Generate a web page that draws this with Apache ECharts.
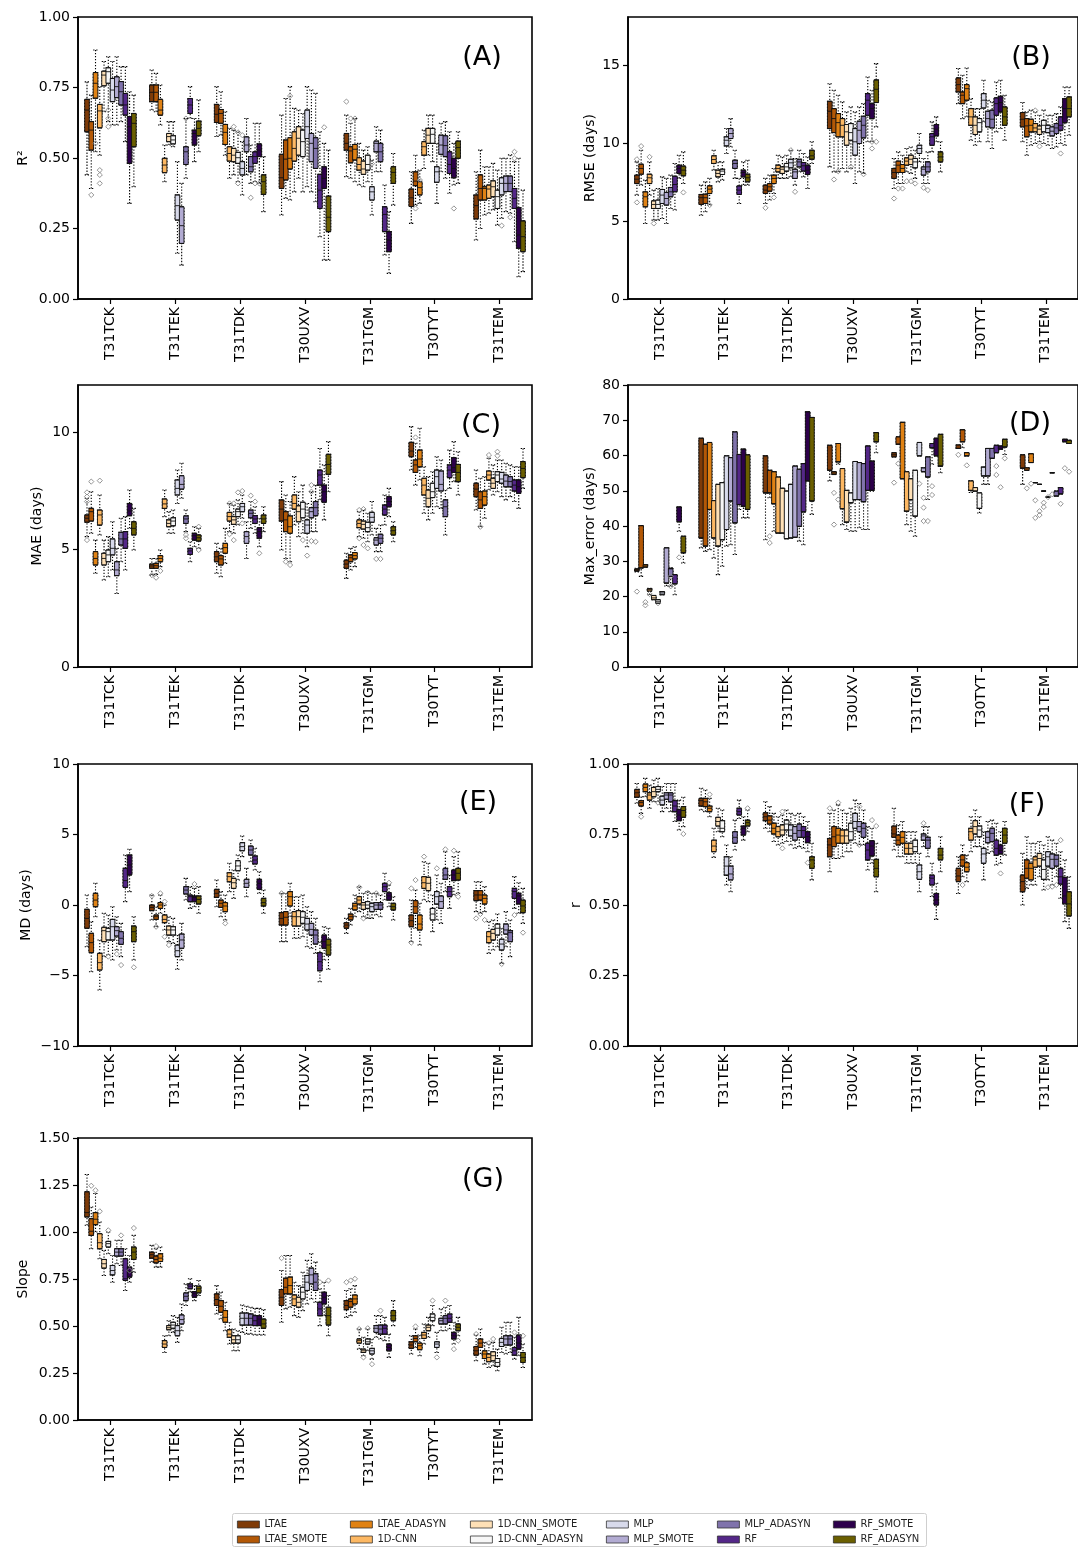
<!DOCTYPE html>
<html>
<head>
<meta charset="utf-8">
<script src="https://cdn.jsdelivr.net/npm/echarts@6/dist/echarts.min.js"></script>
<style>
  html, body { margin: 0; padding: 0; background: #fff; }
  #chart { width: 1078px; height: 1547px; }
</style>
</head>
<body>
<div id="chart"></div>
<script>
// Tiles, models and colours
const categories = ['T31TCK', 'T31TEK', 'T31TDK', 'T30UXV', 'T31TGM', 'T30TYT', 'T31TEM'];
const models = ['LTAE', 'LTAE_SMOTE', 'LTAE_ADASYN', '1D-CNN', '1D-CNN_SMOTE', '1D-CNN_ADASYN',
  'MLP', 'MLP_SMOTE', 'MLP_ADASYN', 'RF', 'RF_SMOTE', 'RF_ADASYN'];
const modelColors = ['#7f3b08', '#b35806', '#e08214', '#fdb863', '#fee0b6', '#f7f7f7',
  '#d8daeb', '#b2abd2', '#8073ac', '#542788', '#2d004b', '#6b5f00'];

// Each block: one tile, 12 models, [min, Q1, median, Q3, max]
const r2Boxes = [
  [[0.44,0.593,0.67,0.708,0.77],[0.392,0.528,0.599,0.629,0.723],[0.522,0.712,0.765,0.803,0.883],[0.51,0.607,0.667,0.69,0.753],[0.664,0.756,0.794,0.808,0.842],[0.629,0.765,0.806,0.82,0.859],[0.617,0.7,0.741,0.782,0.842],[0.617,0.714,0.753,0.788,0.859],[0.629,0.688,0.735,0.771,0.824],[0.558,0.652,0.688,0.729,0.824],[0.339,0.481,0.611,0.647,0.735],[0.398,0.54,0.623,0.658,0.723]],
  [[0.67,0.7,0.733,0.759,0.812],[0.664,0.7,0.733,0.759,0.8],[0.617,0.652,0.67,0.708,0.759],[0.416,0.448,0.475,0.499,0.546],[0.546,0.558,0.576,0.587,0.629],[0.54,0.55,0.564,0.579,0.629],[0.162,0.28,0.331,0.369,0.487],[0.12,0.197,0.26,0.327,0.41],[0.428,0.477,0.522,0.54,0.64],[0.641,0.658,0.688,0.711,0.753],[0.487,0.546,0.587,0.599,0.64],[0.522,0.579,0.605,0.631,0.706]],
  [[0.576,0.626,0.655,0.69,0.753],[0.581,0.623,0.658,0.672,0.735],[0.51,0.548,0.591,0.619,0.664],[0.428,0.489,0.516,0.54,0.605],[0.44,0.487,0.51,0.534,0.599],[0.416,0.481,0.501,0.52,0.593],[0.369,0.44,0.463,0.487,0.558],[0.44,0.522,0.546,0.575,0.64],[0.41,0.451,0.469,0.505,0.546],[0.416,0.481,0.505,0.522,0.623],[0.41,0.505,0.528,0.55,0.623],[0.31,0.371,0.416,0.44,0.505]],
  [[0.298,0.392,0.43,0.513,0.652],[0.357,0.422,0.496,0.564,0.711],[0.351,0.461,0.499,0.572,0.753],[0.38,0.489,0.534,0.593,0.676],[0.428,0.51,0.57,0.611,0.67],[0.38,0.505,0.558,0.599,0.658],[0.398,0.569,0.611,0.67,0.753],[0.38,0.487,0.552,0.587,0.741],[0.345,0.463,0.534,0.572,0.729],[0.221,0.321,0.386,0.442,0.593],[0.138,0.392,0.428,0.469,0.552],[0.138,0.239,0.29,0.365,0.528]],
  [[0.434,0.528,0.552,0.587,0.652],[0.428,0.483,0.525,0.54,0.623],[0.416,0.493,0.531,0.548,0.64],[0.404,0.457,0.477,0.501,0.552],[0.398,0.442,0.461,0.489,0.528],[0.416,0.457,0.477,0.51,0.54],[0.298,0.351,0.38,0.398,0.493],[0.451,0.522,0.552,0.56,0.611],[0.451,0.487,0.522,0.552,0.599],[0.156,0.239,0.3,0.327,0.404],[0.091,0.168,0.209,0.239,0.31],[0.333,0.41,0.449,0.469,0.516]],
  [[0.268,0.328,0.359,0.39,0.451],[0.333,0.402,0.418,0.451,0.51],[0.339,0.369,0.395,0.416,0.457],[0.463,0.51,0.54,0.558,0.599],[0.51,0.552,0.581,0.605,0.652],[0.487,0.552,0.584,0.605,0.652],[0.339,0.414,0.451,0.469,0.552],[0.451,0.513,0.546,0.581,0.623],[0.428,0.505,0.544,0.579,0.629],[0.375,0.445,0.477,0.522,0.593],[0.404,0.43,0.463,0.499,0.552],[0.41,0.499,0.537,0.56,0.593]],
  [[0.209,0.284,0.331,0.369,0.451],[0.25,0.351,0.392,0.44,0.528],[0.298,0.351,0.392,0.398,0.469],[0.304,0.357,0.39,0.404,0.469],[0.316,0.363,0.398,0.419,0.481],[0.262,0.321,0.363,0.386,0.457],[0.286,0.369,0.41,0.43,0.499],[0.31,0.381,0.41,0.436,0.499],[0.304,0.381,0.41,0.436,0.511],[0.203,0.321,0.357,0.392,0.487],[0.079,0.18,0.227,0.324,0.499],[0.097,0.168,0.221,0.277,0.386]]
];

const rmseBoxes = [
  [[6.67,7.41,7.69,7.95,8.8],[7.31,8.01,8.38,8.65,9.55],[4.85,5.92,6.56,6.88,7.63],[6.67,7.41,7.78,8.01,8.8],[5.06,5.81,6.07,6.3,6.99],[5.06,5.81,6.07,6.35,7.09],[5.17,6.13,6.67,7.03,7.84],[4.85,6.03,6.45,6.84,7.74],[5.81,6.56,6.88,7.16,7.95],[5.71,6.88,7.35,7.88,8.7],[7.74,8.06,8.38,8.59,9.23],[7.41,7.91,8.27,8.53,9.44]],
  [[5.38,6.07,6.5,6.71,7.31],[5.6,6.13,6.5,6.73,7.52],[6.03,6.77,7.05,7.26,7.74],[8.27,8.7,8.95,9.19,9.55],[7.52,7.84,8.06,8.27,8.8],[7.63,7.99,8.21,8.33,8.8],[9.34,9.83,10.19,10.41,10.94],[9.76,10.3,10.62,10.94,11.58],[7.74,8.38,8.7,8.91,9.55],[6.13,6.71,6.99,7.26,7.74],[7.31,7.84,8.12,8.27,8.8],[7.31,7.52,7.78,8.01,8.91]],
  [[6.13,6.77,6.99,7.31,7.74],[6.35,6.92,7.2,7.41,7.95],[6.77,7.41,7.74,7.95,8.38],[7.74,8.16,8.38,8.59,9.23],[7.74,8.06,8.33,8.48,9.12],[7.74,8.21,8.48,8.7,9.23],[7.84,8.42,8.74,8.97,9.55],[7.31,7.74,8.16,8.33,9.02],[8.16,8.48,8.8,8.97,9.55],[7.84,8.21,8.55,8.76,9.34],[7.09,7.99,8.27,8.59,9.12],[8.7,8.97,9.19,9.55,10.09]],
  [[8.48,10.94,12.05,12.69,13.82],[8.16,10.68,11.58,12.22,13.4],[8.16,10.41,11.32,11.9,13.08],[8.38,10.41,11.15,11.58,12.65],[8.16,9.87,10.73,11.2,12.01],[8.38,10.19,10.68,11.26,12.33],[7.41,9.23,10.09,10.94,12.01],[8.16,9.98,10.83,11.41,12.33],[8.06,10.34,11.15,11.73,12.54],[10.09,11.79,12.76,13.18,14.25],[10.09,11.58,12.22,12.54,13.4],[11.05,12.61,13.46,14.06,15.11]],
  [[7.09,7.74,8.12,8.38,9.02],[7.41,8.12,8.59,8.85,9.44],[7.41,8.12,8.38,8.63,9.23],[8.16,8.59,8.85,9.06,9.66],[8.06,8.63,8.97,9.23,9.76],[7.74,8.42,8.8,9.02,9.55],[8.8,9.34,9.66,9.87,10.62],[7.41,7.95,8.33,8.48,9.02],[7.41,8.16,8.48,8.8,9.44],[9.44,9.87,10.41,10.62,11.37],[10.09,10.47,10.9,11.2,11.69],[8.16,8.8,9.12,9.44,10.09]],
  [[12.54,13.29,13.76,14.19,14.79],[11.58,12.54,13.08,13.29,14.36],[11.69,12.76,13.5,13.76,14.83],[10.19,11.15,11.69,12.22,12.86],[9.87,10.56,11.15,11.69,12.22],[10.09,10.73,11.32,11.58,12.22],[11.37,12.26,12.76,13.18,14.04],[10.09,11.05,11.58,12.05,12.76],[9.66,10.98,11.54,12.12,12.65],[10.73,11.79,12.54,12.91,13.93],[10.94,12.01,12.61,13.01,14.04],[10.19,11.15,11.69,12.33,13.08]],
  [[10.09,11.05,11.54,11.97,12.61],[9.23,10.41,11.11,11.58,12.01],[9.87,10.73,11.15,11.54,12.12],[9.98,10.73,10.98,11.26,12.01],[10.09,10.56,10.9,11.11,11.79],[9.98,10.73,11.15,11.47,12.12],[9.87,10.68,10.94,11.15,11.79],[9.66,10.47,10.77,11.05,11.79],[9.76,10.62,10.98,11.26,11.9],[9.98,10.83,11.15,11.69,12.33],[9.87,11.32,12.22,12.86,13.61],[10.51,11.69,12.22,12.97,13.61]]
];

const maeBoxes = [
  [[5.55,6.16,6.33,6.47,7.18],[5.69,6.21,6.61,6.75,7.46],[3.99,4.34,4.62,4.91,5.4],[5.62,6.04,6.47,6.68,7.32],[3.7,4.34,4.62,4.84,5.4],[3.84,4.48,4.77,4.98,5.55],[4.13,4.77,5.05,5.45,6.18],[3.13,3.89,4.13,4.48,5.05],[4.48,5.19,5.45,5.73,6.33],[4.13,5.05,5.45,5.76,6.4],[5.9,6.44,6.64,6.96,7.53],[4.98,5.62,5.9,6.18,6.75]],
  [[3.91,4.2,4.3,4.38,4.62],[3.94,4.2,4.31,4.41,4.62],[4.27,4.48,4.62,4.74,4.98],[6.4,6.75,6.94,7.15,7.53],[5.69,5.97,6.11,6.26,6.61],[5.69,6.01,6.21,6.35,6.68],[6.96,7.32,7.6,7.96,8.38],[7.18,7.57,7.77,8.14,8.67],[5.76,6.11,6.3,6.43,6.68],[4.48,4.79,4.94,5.05,5.33],[5.12,5.4,5.59,5.69,5.97],[5.05,5.36,5.5,5.62,5.9]],
  [[3.99,4.48,4.69,4.91,5.26],[3.84,4.34,4.6,4.74,5.05],[4.41,4.84,5.08,5.26,5.9],[5.76,6.21,6.4,6.58,6.96],[5.69,6.07,6.26,6.4,6.89],[6.04,6.4,6.61,6.72,7.11],[6.33,6.61,6.82,6.96,7.32],[4.62,5.26,5.55,5.76,6.18],[5.9,6.35,6.54,6.68,7.04],[5.69,6.11,6.3,6.44,6.82],[5.12,5.48,5.76,5.93,6.33],[5.76,6.11,6.3,6.47,6.82]],
  [[4.98,6.21,6.72,7.11,7.89],[4.62,5.76,6.26,6.61,7.32],[4.48,5.69,5.97,6.43,7.04],[6.04,6.72,6.96,7.32,8.1],[5.55,6.18,6.61,6.86,7.46],[5.69,6.35,6.72,7.01,7.74],[5.12,5.69,6.04,6.26,6.96],[5.76,6.35,6.61,6.78,7.46],[5.76,6.44,6.78,7.04,7.74],[7.11,7.74,8.17,8.38,9.3],[6.26,7.01,7.46,7.74,8.6],[7.46,8.2,8.62,9.05,9.59]],
  [[3.77,4.2,4.38,4.55,4.84],[4.13,4.48,4.65,4.77,5.05],[4.27,4.6,4.74,4.87,5.12],[5.55,5.93,6.11,6.26,6.61],[5.48,5.87,6.07,6.21,6.68],[5.33,5.76,5.93,6.16,6.54],[5.62,6.16,6.37,6.58,7.04],[4.91,5.19,5.4,5.5,5.9],[4.91,5.26,5.48,5.65,6.04],[6.04,6.47,6.72,6.89,7.32],[6.4,6.82,7.04,7.25,7.6],[5.33,5.62,5.8,5.97,6.18]],
  [[8.38,8.95,9.19,9.56,10.23],[7.74,8.28,8.6,8.81,9.52],[7.96,8.52,8.85,9.23,10.16],[6.54,7.32,7.74,8.03,8.52],[6.26,6.82,7.18,7.53,8.1],[6.54,7.21,7.46,7.82,8.31],[6.82,7.6,8.1,8.38,8.95],[6.75,7.49,7.77,8.34,8.81],[5.62,6.4,6.82,7.11,7.53],[7.6,8.06,8.38,8.6,9.23],[7.89,8.28,8.48,8.91,9.59],[7.32,7.89,8.28,8.62,9.16]],
  [[6.68,7.25,7.57,7.82,8.38],[5.97,6.75,7.11,7.46,8.03],[6.33,6.89,7.25,7.49,8.1],[7.53,7.96,8.17,8.34,8.88],[7.32,7.6,7.82,8.03,8.6],[7.46,7.89,8.17,8.31,8.81],[7.25,7.82,8.0,8.28,8.81],[7.11,7.67,7.91,8.17,8.67],[7.25,7.67,7.89,8.1,8.6],[7.04,7.49,7.74,7.96,8.52],[6.75,7.39,7.67,7.96,8.52],[7.6,8.06,8.45,8.74,9.3]]
];

const maxErrBoxes = [
  [[27,27.2,27.5,27.8,28],[25.7,28.1,28.1,40.1,40.1],[28.3,28.3,28.6,29.0,29.0],[20.5,21.5,21.9,22.2,22.3],[19.1,19.1,19.6,20.3,20.3],[18.1,18.1,18.6,19.1,19.1],[20.5,20.5,21.0,21.4,21.4],[23,23.8,23.8,33.8,33.8],[22.9,25.7,27.9,27.9,28.2],[20.5,23.6,23.6,26.2,26.2],[38.5,41.2,41.2,45.4,45.4],[29.5,32.4,32.4,37.1,37.1]],
  [[33.8,36.6,36.6,64.9,64.9],[32.8,34.3,34.3,63.2,63.2],[33.3,44.7,44.7,63.7,63.7],[30.9,36.6,36.6,47.2,47.2],[26.2,34.3,34.3,51.8,51.8],[28.6,36.1,36.1,52.3,52.3],[34.3,39.0,39.0,59.9,59.9],[34.7,47.1,47.1,59.4,59.4],[31.9,40.9,40.9,66.7,66.7],[44.7,46.1,46.1,60.3,60.3],[42.3,45.6,45.6,61.8,61.8],[42.3,44.7,44.7,60.2,60.2]],
  [[36.1,49.4,49.4,59.9,59.9],[48,49.4,49.4,55.8,55.8],[38.5,46.3,46.3,55.4,55.4],[38,38,38,53.9,53.9],[38,38,38,50.7,50.7],[36.4,36.4,36.4,49.9,49.9],[36.6,36.6,36.6,51.8,51.8],[36.8,36.8,36.8,57.0,57.0],[35.7,39.9,39.9,56.1,56.1],[34.7,44.0,44.0,57.7,57.7],[52.8,52.8,52.8,72.4,72.4],[43.3,47.1,47.1,70.8,70.8]],
  [[52.8,55.8,55.8,62.9,62.9],[54.6,54.6,55,55.4,55.4],[57.5,58.2,58.2,63.4,63.4],[40.4,44.9,44.9,56.3,56.3],[39.0,41.1,41.1,50.1,50.1],[38.5,46.6,46.6,49.4,49.4],[38.5,47.5,47.5,58.3,58.3],[39.5,47.5,47.5,58.0,58.0],[39.0,46.9,46.9,57.7,57.7],[39.0,50.1,50.1,62.7,62.7],[49.9,50.1,50.1,58.4,58.4],[60.8,63.9,63.9,66.5,66.5]],
  [[59.6,59.6,60.2,60.8,60.8],[63.2,63.2,63.2,65.3,65.3],[53.4,53.4,53.4,69.4,69.4],[40.4,44.2,44.2,55.4,55.4],[38.5,47.5,47.5,53.4,53.4],[37.1,42.8,42.8,55.8,55.8],[59.9,59.9,59.9,63.7,63.7],[55.4,55.4,55.4,56.5,56.5],[47.5,53.9,53.9,59.6,59.6],[57.5,62.2,62.2,63.4,63.4],[59.9,59.9,59.9,64.9,64.9],[55.1,57.0,57.0,66.0,66.0]],
  [[62.0,62.0,62.0,63.0,63.0],[62.2,63.9,63.9,67.3,67.3],[59.9,59.9,59.9,60.8,60.8],[49.5,50.1,50.1,52.8,52.8],[49.9,49.9,49.9,50.9,50.9],[43.7,45.0,45.0,49.4,49.4],[51.8,54.2,54.2,56.7,56.7],[51.8,54.2,54.2,62.0,62.0],[59.2,59.2,59.2,62.0,62.0],[60.8,60.8,60.8,62.9,62.9],[61.8,61.8,61.8,62.7,62.7],[60.3,62.4,62.4,64.6,64.6]],
  [[51.8,56.4,56.4,60.2,60.2],[55.8,55.8,55.8,56.5,56.5],[58.0,58.0,58.0,60.5,60.5],[52.3,52.3,52.3,52.3,52.3],[51.8,51.8,51.8,51.8,51.8],[49.9,49.9,49.9,49.9,49.9],[48.2,48.2,48.2,48.2,48.2],[55.1,55.1,55.1,55.1,55.1],[48.5,48.5,48.5,49.9,49.9],[49.1,49.1,49.1,50.9,50.9],[63.9,63.9,63.9,64.6,64.6],[63.4,63.4,63.4,64.3,64.3]]
];

const mdBoxes = [
  [[-2.96,-1.65,-0.95,-0.31,0.71],[-4.73,-3.38,-2.67,-2.01,-1.18],[-0.83,-0.12,0.35,0.83,1.54],[-6.03,-4.61,-4.09,-3.43,-2.48],[-3.66,-2.6,-1.82,-1.58,-0.59],[-3.55,-2.48,-1.89,-1.65,-0.71],[-3.9,-2.48,-1.54,-1.02,-0.12],[-3.19,-2.2,-1.82,-1.54,-0.83],[-3.66,-2.79,-2.36,-1.89,-1.3],[0.24,1.25,1.73,2.6,3.55],[0.95,2.13,2.84,3.55,3.95],[-3.9,-2.6,-1.89,-1.49,-0.83]],
  [[-1.06,-0.4,-0.17,0,0.71],[-1.54,-1.02,-0.83,-0.71,-0.12],[-0.59,-0.24,0,0.17,0.71],[-1.77,-1.25,-1.02,-0.71,0],[-2.6,-2.13,-1.77,-1.49,-0.83],[-2.72,-2.13,-1.77,-1.54,-0.95],[-4.56,-3.66,-3.24,-2.84,-2.13],[-3.9,-3.07,-2.48,-2.06,-1.3],[0.35,0.78,1.06,1.3,1.89],[-0.24,0.24,0.59,0.71,1.3],[-0.12,0.24,0.54,0.64,1.18],[-0.59,0.07,0.4,0.64,1.3]],
  [[-0.12,0.54,0.83,1.11,1.77],[-0.83,-0.17,0.12,0.35,0.95],[-1.06,-0.47,-0.07,0.17,0.71],[0.95,1.65,2.01,2.29,2.96],[0.47,1.18,1.58,1.89,2.48],[1.77,2.43,2.77,3.14,3.55],[3.43,3.85,4.14,4.42,4.89],[0.59,1.25,1.54,1.82,2.6],[3.07,3.55,3.9,4.18,4.61],[2.48,2.91,3.19,3.48,4.02],[0.83,1.11,1.54,1.82,2.36],[-0.59,-0.07,0.17,0.47,1.06]],
  [[-2.6,-1.42,-0.95,-0.54,0.83],[-2.6,-1.42,-0.87,-0.47,0.83],[-0.83,-0.07,0.59,0.95,1.54],[-2.36,-1.49,-0.83,-0.47,0.59],[-2.36,-1.49,-0.83,-0.4,0.59],[-2.25,-1.3,-0.87,-0.47,0.71],[-2.96,-1.77,-1.35,-0.95,-0.12],[-3.07,-2.13,-1.73,-1.3,-0.47],[-3.43,-2.77,-2.13,-1.77,-0.95],[-5.44,-4.66,-4.02,-3.38,-2.6],[-3.9,-3.07,-2.6,-2.13,-1.54],[-4.56,-3.55,-2.84,-2.43,-1.65]],
  [[-2.01,-1.65,-1.42,-1.25,-0.95],[-1.42,-1.06,-0.83,-0.64,-0.24],[-0.83,-0.35,-0.07,0.12,0.71],[-0.47,0.07,0.35,0.59,1.3],[-0.83,-0.31,0,0.17,0.83],[-0.95,-0.24,0,0.24,0.95],[-0.95,-0.47,-0.12,0.12,0.83],[-0.71,-0.31,0,0.17,0.83],[-0.83,-0.31,0,0.17,0.71],[0.35,0.95,1.3,1.54,2.25],[-0.12,0.35,0.64,0.87,1.42],[-1.06,-0.35,-0.12,0.12,0.59]],
  [[-2.6,-1.54,-1.11,-0.71,0.35],[-1.65,-0.59,-0.12,0.31,1.06],[-2.84,-1.77,-1.35,-0.71,0.12],[0.35,1.18,1.58,2.01,3.07],[0.24,1.02,1.54,1.96,2.96],[-1.89,-1.06,-0.64,-0.24,0.71],[-1.06,0.07,0.59,0.95,2.13],[-1.3,-0.24,0.24,0.64,1.54],[0.95,1.82,2.13,2.6,3.78],[-0.24,0.59,0.95,1.3,2.13],[0.71,1.73,2.13,2.48,3.43],[0.83,1.77,2.25,2.6,3.78]],
  [[-0.47,0.31,0.71,1.02,1.65],[-0.59,0.35,0.71,1.02,1.65],[-0.47,0.07,0.47,0.71,1.3],[-3.43,-2.67,-2.25,-1.89,-1.18],[-3.19,-2.48,-2.01,-1.73,-1.06],[-2.96,-2.13,-1.65,-1.35,-0.64],[-4.14,-3.19,-2.77,-2.43,-1.65],[-2.96,-2.06,-1.77,-1.35,-0.47],[-3.66,-2.6,-1.96,-1.82,-1.06],[-0.24,0.47,0.95,1.18,2.01],[-0.59,0.07,0.64,0.83,1.58],[-1.3,-0.54,-0.07,0.35,1.18]]
];

const rBoxes = [
  [[0.861,0.882,0.898,0.91,0.931],[0.825,0.851,0.863,0.87,0.884],[0.884,0.902,0.917,0.929,0.949],[0.843,0.872,0.89,0.898,0.925],[0.866,0.884,0.902,0.917,0.943],[0.866,0.902,0.91,0.92,0.949],[0.831,0.855,0.872,0.886,0.92],[0.843,0.875,0.89,0.898,0.931],[0.831,0.866,0.89,0.898,0.931],[0.796,0.831,0.851,0.87,0.931],[0.766,0.799,0.819,0.839,0.872],[0.778,0.811,0.835,0.849,0.882]],
  [[0.837,0.851,0.87,0.878,0.914],[0.831,0.849,0.866,0.878,0.908],[0.813,0.831,0.843,0.851,0.878],[0.669,0.689,0.709,0.73,0.772],[0.76,0.78,0.796,0.811,0.843],[0.742,0.76,0.772,0.799,0.837],[0.571,0.606,0.638,0.671,0.713],[0.547,0.589,0.61,0.638,0.671],[0.695,0.719,0.74,0.76,0.801],[0.807,0.819,0.831,0.843,0.872],[0.73,0.748,0.772,0.78,0.813],[0.76,0.78,0.792,0.801,0.837]],
  [[0.772,0.799,0.813,0.827,0.866],[0.76,0.787,0.801,0.816,0.849],[0.725,0.752,0.772,0.79,0.825],[0.713,0.742,0.76,0.778,0.813],[0.719,0.748,0.766,0.784,0.819],[0.725,0.766,0.787,0.801,0.837],[0.713,0.745,0.766,0.784,0.825],[0.701,0.73,0.754,0.778,0.819],[0.707,0.74,0.764,0.787,0.825],[0.701,0.74,0.764,0.778,0.813],[0.689,0.721,0.742,0.76,0.796],[0.589,0.63,0.66,0.671,0.719]],
  [[0.618,0.671,0.713,0.736,0.825],[0.665,0.707,0.742,0.778,0.837],[0.665,0.719,0.748,0.772,0.855],[0.671,0.719,0.745,0.766,0.837],[0.689,0.719,0.745,0.766,0.825],[0.689,0.73,0.76,0.79,0.843],[0.719,0.772,0.796,0.825,0.872],[0.713,0.76,0.778,0.796,0.86],[0.713,0.74,0.772,0.79,0.837],[0.624,0.66,0.695,0.719,0.778],[0.648,0.674,0.709,0.728,0.772],[0.547,0.6,0.63,0.662,0.719]],
  [[0.695,0.74,0.752,0.78,0.843],[0.671,0.713,0.73,0.748,0.784],[0.671,0.719,0.74,0.76,0.796],[0.648,0.681,0.701,0.719,0.76],[0.648,0.681,0.701,0.719,0.76],[0.648,0.689,0.707,0.73,0.76],[0.547,0.591,0.618,0.642,0.683],[0.707,0.73,0.745,0.752,0.778],[0.671,0.701,0.73,0.74,0.778],[0.53,0.571,0.595,0.606,0.648],[0.449,0.5,0.518,0.541,0.577],[0.618,0.66,0.677,0.701,0.742]],
  [[0.541,0.583,0.603,0.63,0.671],[0.6,0.638,0.66,0.677,0.713],[0.583,0.618,0.634,0.65,0.677],[0.689,0.73,0.76,0.772,0.813],[0.707,0.752,0.778,0.799,0.837],[0.707,0.742,0.766,0.78,0.813],[0.589,0.648,0.681,0.701,0.76],[0.683,0.721,0.74,0.76,0.796],[0.689,0.725,0.754,0.772,0.801],[0.642,0.677,0.701,0.73,0.79],[0.648,0.681,0.693,0.713,0.76],[0.677,0.719,0.748,0.772,0.796]],
  [[0.5,0.547,0.583,0.606,0.683],[0.559,0.595,0.63,0.66,0.742],[0.571,0.589,0.63,0.648,0.719],[0.571,0.634,0.66,0.671,0.719],[0.6,0.638,0.665,0.683,0.725],[0.553,0.591,0.626,0.66,0.713],[0.589,0.638,0.671,0.689,0.742],[0.571,0.63,0.662,0.681,0.73],[0.6,0.638,0.662,0.677,0.719],[0.524,0.574,0.6,0.63,0.689],[0.441,0.504,0.532,0.598,0.66],[0.417,0.461,0.504,0.547,0.6]]
];

const slopeBoxes = [
  [[1.036,1.08,1.103,1.214,1.306],[0.911,0.982,1.004,1.071,1.133],[1.0,1.039,1.068,1.103,1.205],[0.858,0.911,0.943,0.991,1.053],[0.769,0.808,0.831,0.854,0.902],[0.884,0.92,0.938,0.95,1.0],[0.733,0.772,0.795,0.822,0.875],[0.831,0.872,0.893,0.911,0.956],[0.822,0.872,0.893,0.911,0.956],[0.689,0.742,0.751,0.858,0.911],[0.733,0.76,0.79,0.813,0.875],[0.786,0.854,0.893,0.92,0.982]],
  [[0.84,0.861,0.879,0.893,0.929],[0.813,0.836,0.854,0.872,0.911],[0.813,0.843,0.861,0.884,0.92],[0.359,0.386,0.404,0.422,0.448],[0.448,0.48,0.491,0.502,0.528],[0.466,0.488,0.505,0.52,0.555],[0.413,0.448,0.475,0.502,0.546],[0.475,0.511,0.534,0.559,0.617],[0.609,0.635,0.658,0.676,0.724],[0.68,0.698,0.712,0.724,0.751],[0.635,0.653,0.671,0.683,0.715],[0.662,0.676,0.698,0.712,0.742]],
  [[0.564,0.609,0.641,0.671,0.715],[0.537,0.573,0.605,0.635,0.68],[0.475,0.52,0.546,0.582,0.626],[0.404,0.44,0.457,0.48,0.52],[0.368,0.409,0.427,0.448,0.484],[0.368,0.409,0.427,0.448,0.475],[0.466,0.505,0.541,0.569,0.612],[0.457,0.505,0.541,0.569,0.605],[0.457,0.505,0.541,0.564,0.6],[0.452,0.502,0.528,0.555,0.594],[0.452,0.502,0.537,0.555,0.594],[0.452,0.488,0.511,0.537,0.587]],
  [[0.52,0.609,0.653,0.694,0.795],[0.591,0.671,0.706,0.754,0.875],[0.6,0.671,0.715,0.76,0.875],[0.555,0.609,0.644,0.665,0.733],[0.546,0.6,0.626,0.653,0.715],[0.582,0.644,0.68,0.706,0.786],[0.617,0.689,0.733,0.769,0.849],[0.644,0.724,0.772,0.808,0.884],[0.626,0.689,0.733,0.778,0.84],[0.502,0.555,0.591,0.626,0.698],[0.555,0.617,0.653,0.68,0.733],[0.448,0.505,0.555,0.6,0.662]],
  [[0.546,0.587,0.609,0.635,0.689],[0.555,0.6,0.63,0.644,0.698],[0.573,0.617,0.644,0.665,0.715],[0.377,0.409,0.422,0.431,0.484],[0.342,0.359,0.368,0.377,0.44],[0.368,0.404,0.416,0.431,0.484],[0.324,0.351,0.368,0.381,0.431],[0.44,0.466,0.488,0.502,0.555],[0.431,0.457,0.484,0.505,0.555],[0.422,0.457,0.488,0.505,0.546],[0.333,0.368,0.386,0.404,0.457],[0.502,0.528,0.555,0.582,0.635]],
  [[0.351,0.381,0.399,0.416,0.448],[0.386,0.416,0.434,0.448,0.484],[0.342,0.374,0.395,0.409,0.452],[0.404,0.434,0.452,0.466,0.511],[0.44,0.475,0.493,0.505,0.546],[0.502,0.528,0.546,0.564,0.609],[0.359,0.386,0.404,0.416,0.466],[0.475,0.511,0.528,0.541,0.591],[0.475,0.511,0.541,0.555,0.6],[0.484,0.52,0.541,0.564,0.609],[0.404,0.431,0.448,0.466,0.52],[0.448,0.475,0.493,0.511,0.546]],
  [[0.315,0.345,0.368,0.391,0.452],[0.351,0.386,0.409,0.431,0.484],[0.297,0.327,0.351,0.368,0.413],[0.279,0.31,0.333,0.351,0.404],[0.288,0.315,0.342,0.363,0.413],[0.262,0.285,0.306,0.327,0.377],[0.359,0.391,0.413,0.434,0.493],[0.351,0.399,0.431,0.448,0.52],[0.359,0.399,0.431,0.448,0.52],[0.324,0.345,0.368,0.386,0.44],[0.342,0.377,0.409,0.452,0.546],[0.279,0.306,0.333,0.359,0.404]]
];

// Outlying runs: [tile index, model index, value]
const r2Outliers = [[0,1,0.369],[0,2,0.552],[0,3,0.457],[0,3,0.44],[0,3,0.41],[0,5,0.67],[0,5,0.64],[0,5,0.611],
  [1,8,0.64],[2,4,0.611],[2,5,0.591],[2,6,0.581],[2,5,0.41],[2,8,0.359],[2,9,0.41],[2,10,0.41],
  [3,2,0.72],[3,10,0.609],[4,0,0.70],[4,1,0.64],[4,2,0.64],[4,6,0.48],[5,1,0.321],[5,2,0.422],[5,10,0.321],
  [6,6,0.26],[6,8,0.29],[6,9,0.522],[6,9,0.499]];
const rmseOutliers = [[0,0,8.97],[0,0,6.2],[0,1,9.81],[0,3,9.12],[0,4,4.85],[0,11,6.84],[1,2,6.03],
  [2,0,5.85],[2,2,6.52],[2,7,6.88],[2,6,9.55],[3,1,7.67],[3,2,8.2],[3,5,8.48],[3,8,8.01],[3,10,10.09],[3,11,10.09],[3,10,9.66],
  [4,0,6.45],[4,1,7.09],[4,2,7.09],[4,3,7.56],[4,4,7.56],[4,5,7.41],[4,7,7.14],[4,8,6.99],[6,3,12.1],[6,4,9.8],[6,9,9.34]];
const maeOutliers = [[0,0,7.43],[0,0,7.25],[0,0,7.04],[0,0,5.4],[0,1,7.89],[0,3,7.93],[1,0,3.91],[1,1,3.8],[1,2,4.09],
  [1,8,5.62],[1,8,5.48],[1,11,5.97],[1,11,4.98],[2,3,6.96],[2,4,6.96],[2,5,7.43],[2,6,7.49],[2,3,5.65],[2,4,5.4],
  [2,8,7.29],[2,9,7.04],[2,6,6.11],[2,10,4.84],[3,1,4.48],[3,2,4.34],[3,7,7.74],[3,7,7.46],[3,5,5.4],[3,7,5.36],[3,8,5.33],[3,6,4.74],
  [4,3,6.68],[4,4,6.72],[4,3,5.48],[4,4,5.19],[4,5,5.05],[4,7,4.6],[4,8,4.6],[5,1,9.77],[6,1,5.97],[6,3,9.02],[6,5,9.16],[6,5,8.99]];
const maxErrOutliers = [[0,0,21.4],[0,2,18.4],[0,2,17.5],[0,3,20.7],[0,5,18.1],[0,8,25.7],[0,8,22.9],[0,10,31.1],
  [2,1,37.1],[2,1,35.2],[3,1,49.4],[3,2,47.5],[3,1,40.4],[4,0,52.3],[4,1,57.7],[4,6,52],[4,7,48],[4,7,45.2],[4,7,41.4],[4,8,41.4],
  [4,9,51.3],[4,9,48.8],[5,0,60.2],[5,2,57.2],[5,9,57],[5,9,54.5],[5,10,51.0],[5,11,59.2],
  [6,1,50.7],[6,2,52],[6,3,47.3],[6,3,42.3],[6,4,44.2],[6,4,43.1],[6,5,46.6],[6,5,45.4],[6,6,48.2],[6,7,49],[6,9,46.3],[6,10,56.4],[6,11,55.4]];
const mdOutliers = [[0,5,-3.66],[0,7,-3.48],[0,8,-4.26],[0,11,-4.42],[1,0,0.64],[1,1,-1.54],[1,2,0.83],[1,3,0.24],[1,3,-2.25],[1,4,-2.84],
  [1,10,1.49],[2,2,-1.3],[3,0,0.83],[4,3,1.25],[4,5,0.87],[4,4,-0.95],[4,5,-0.78],[4,7,0.83],[4,10,1.58],
  [5,0,1.18],[5,0,-2.67],[5,1,1.77],[5,3,3.43],[5,6,2.6],[5,8,3.95],[5,10,3.85],[5,11,0.59],
  [6,0,-0.95],[6,1,-0.64],[6,2,-1.06],[6,6,-4.18],[6,9,-0.71],[6,11,-1.96]];
const rOutliers = [[0,1,0.813],[0,5,0.863],[0,11,0.752],[1,2,0.892],[1,11,0.843],[2,4,0.831],[2,4,0.701],[2,10,0.65],
  [3,0,0.843],[3,2,0.863],[3,7,0.849],[3,7,0.713],[3,11,0.78],[3,10,0.801],[4,7,0.79],[5,1,0.571],[5,10,0.612],
  [6,6,0.563],[6,7,0.565],[6,8,0.571],[6,9,0.73]];
const slopeOutliers = [[0,1,1.246],[0,2,1.222],[0,3,1.11],[0,5,1.009],[0,8,0.982],[0,11,1.021],[0,10,0.795],[1,1,0.925],
  [3,0,0.861],[3,9,0.733],[3,11,0.742],[4,0,0.733],[4,1,0.742],[4,2,0.751],[4,3,0.484],[4,4,0.333],[4,6,0.297],[4,8,0.582],[4,5,0.488],
  [5,1,0.498],[5,5,0.635],[5,8,0.635],[5,6,0.333],[5,10,0.377],[5,11,0.422],
  [6,0,0.457],[6,3,0.409],[6,4,0.431],[6,9,0.466],[6,11,0.448]];

// Panel setup: metric, y-axis and placement
const panels = [
  { tag: '(A)', boxes: r2Boxes,     fliers: r2Outliers,     title: 'R²',               min: 0,   max: 1,    ticks: [0, 0.25, 0.5, 0.75, 1],  dec: 2, left: 78,  top: 17,   nameGap: 48 },
  { tag: '(B)', boxes: rmseBoxes,   fliers: rmseOutliers,   title: 'RMSE (days)',      min: 0,   max: 18.1, ticks: [0, 5, 10, 15],           dec: 0, left: 628, top: 17,   nameGap: 31 },
  { tag: '(C)', boxes: maeBoxes,    fliers: maeOutliers,    title: 'MAE (days)',       min: 0,   max: 12,   ticks: [0, 5, 10],               dec: 0, left: 78,  top: 385,  nameGap: 34 },
  { tag: '(D)', boxes: maxErrBoxes, fliers: maxErrOutliers, title: 'Max_error (days)', min: 0,   max: 80,   ticks: [0,10,20,30,40,50,60,70,80], dec: 0, left: 628, top: 385, nameGap: 31 },
  { tag: '(E)', boxes: mdBoxes,     fliers: mdOutliers,     title: 'MD (days)',        min: -10, max: 10,   ticks: [-10, -5, 0, 5, 10],      dec: 0, left: 78,  top: 764,  nameGap: 45 },
  { tag: '(F)', boxes: rBoxes,      fliers: rOutliers,      title: 'r',                min: 0,   max: 1,    ticks: [0, 0.25, 0.5, 0.75, 1],  dec: 2, left: 628, top: 764,  nameGap: 45 },
  { tag: '(G)', boxes: slopeBoxes,  fliers: slopeOutliers,  title: 'Slope',            min: 0,   max: 1.5,  ticks: [0,0.25,0.5,0.75,1,1.25,1.5], dec: 2, left: 78, top: 1138, nameGap: 48 }
];
const tagPos = [[482, 58], [1031, 58], [481, 426], [1030, 424], [478, 803], [1027, 805], [483, 1180]];

const FONT = 'DejaVu Sans';
const grids = [], xAxes = [], yAxes = [], series = [], graphics = [];

// Diamond marker placed at the same side-by-side slot the boxplot layout gives each model
function renderFlier(params, api) {
  const c = api.coord([api.value(0), api.value(2)]);
  const band = api.size([1, 0])[0];
  const avail = band * 0.8 - 2;
  const gap = avail / models.length * 0.3;
  const w = (avail - gap * (models.length - 1)) / models.length;
  const x = c[0] + w / 2 - avail / 2 + api.value(1) * (gap + w);
  const r = 2.6, y = c[1];
  return { type: 'polygon', shape: { points: [[x, y - r], [x + r, y], [x, y + r], [x - r, y]] },
    style: { fill: 'rgba(255,255,255,0)', stroke: '#8a8a8a', lineWidth: 0.9 } };
}

panels.forEach((p, i) => {
  grids.push({ left: p.left, top: p.top, width: 454, height: 282, show: true,
    borderColor: '#000', borderWidth: 1.6, backgroundColor: '#fff' });
  // visible category axis (boxes)
  xAxes.push({ type: 'category', gridIndex: i, data: categories,
    axisLine: { show: true, onZero: false, lineStyle: { color: '#000', width: 1.6 } },
    axisTick: { show: true, alignWithLabel: true, length: 5, lineStyle: { color: '#000', width: 1.2 } },
    axisLabel: { rotate: 90, fontSize: 14, color: '#000', fontFamily: FONT, margin: 8 },
    splitLine: { show: false } });
  // twin axis carrying the dotted whiskers
  xAxes.push({ type: 'category', gridIndex: i, data: categories, show: false });
  yAxes.push({ type: 'value', gridIndex: i, min: p.min, max: p.max,
    name: p.title, nameLocation: 'middle', nameGap: p.nameGap, nameRotate: 90,
    nameTextStyle: { fontSize: 14, color: '#000', fontFamily: FONT },
    axisLine: { show: true, lineStyle: { color: '#000', width: 1.6 } },
    axisTick: { show: true, length: 5, customValues: p.ticks, lineStyle: { color: '#000', width: 1.2 } },
    axisLabel: { fontSize: 14, color: '#000', fontFamily: FONT, margin: 8, customValues: p.ticks,
      formatter: v => v.toFixed(p.dec).replace('-', '\u2212') },
    splitLine: { show: false } });

  models.forEach((m, k) => {
    const full = categories.map((c, ci) => p.boxes[ci][k]);
    series.push({ type: 'boxplot', name: m + ' range', xAxisIndex: 2 * i + 1, yAxisIndex: i,
      data: full, boxWidth: [4.6, 4.6], silent: true, z: 2,
      itemStyle: { color: 'rgba(0,0,0,0)', borderColor: '#000', borderWidth: 1.1, borderType: [1.3, 1.7] },
      emphasis: { disabled: true } });
    series.push({ type: 'boxplot', name: m, xAxisIndex: 2 * i, yAxisIndex: i,
      data: full.map(d => [d[1], d[1], d[2], d[3], d[3]]), boxWidth: [4.6, 4.6], silent: true, z: 3,
      itemStyle: { color: modelColors[k], borderColor: '#111', borderWidth: 0.9 },
      emphasis: { disabled: true } });
  });

  series.push({ type: 'custom', name: 'outliers', xAxisIndex: 2 * i, yAxisIndex: i, z: 4, silent: true,
    renderItem: renderFlier, data: p.fliers, clip: false });

  graphics.push({ type: 'text', x: tagPos[i][0], y: tagPos[i][1], z: 10,
    style: { text: p.tag, font: '27px ' + FONT, fill: '#000', textAlign: 'center', textVerticalAlign: 'middle' } });
});

// legend frame
graphics.push({ type: 'rect', z: -1, shape: { x: 232.5, y: 1513.5, width: 694, height: 33, r: 2 },
  style: { fill: '#fff', stroke: '#cfcfcf', lineWidth: 1 } });

const legendCols = [[0, 1], [2, 3], [4, 5], [6, 7], [8, 9], [10, 11]];
const legendX = [237, 350, 470, 606, 717, 833];
const legends = legendCols.map((pair, j) => ({
  orient: 'vertical', left: legendX[j], top: 1519, itemGap: 4, itemWidth: 22, itemHeight: 7,
  icon: 'rect', selectedMode: false, padding: 0,
  data: pair.map(k => ({ name: models[k], itemStyle: { color: modelColors[k], borderColor: '#333', borderWidth: 0.8 } })),
  textStyle: { fontSize: 10, color: '#222', fontFamily: FONT, lineHeight: 11 }
}));

const chart = echarts.init(document.getElementById('chart'), null, { renderer: 'canvas' });
chart.setOption({
  animation: false,
  backgroundColor: '#fff',
  grid: grids, xAxis: xAxes, yAxis: yAxes, series: series,
  legend: legends, graphic: graphics
});
</script>
</body>
</html>
